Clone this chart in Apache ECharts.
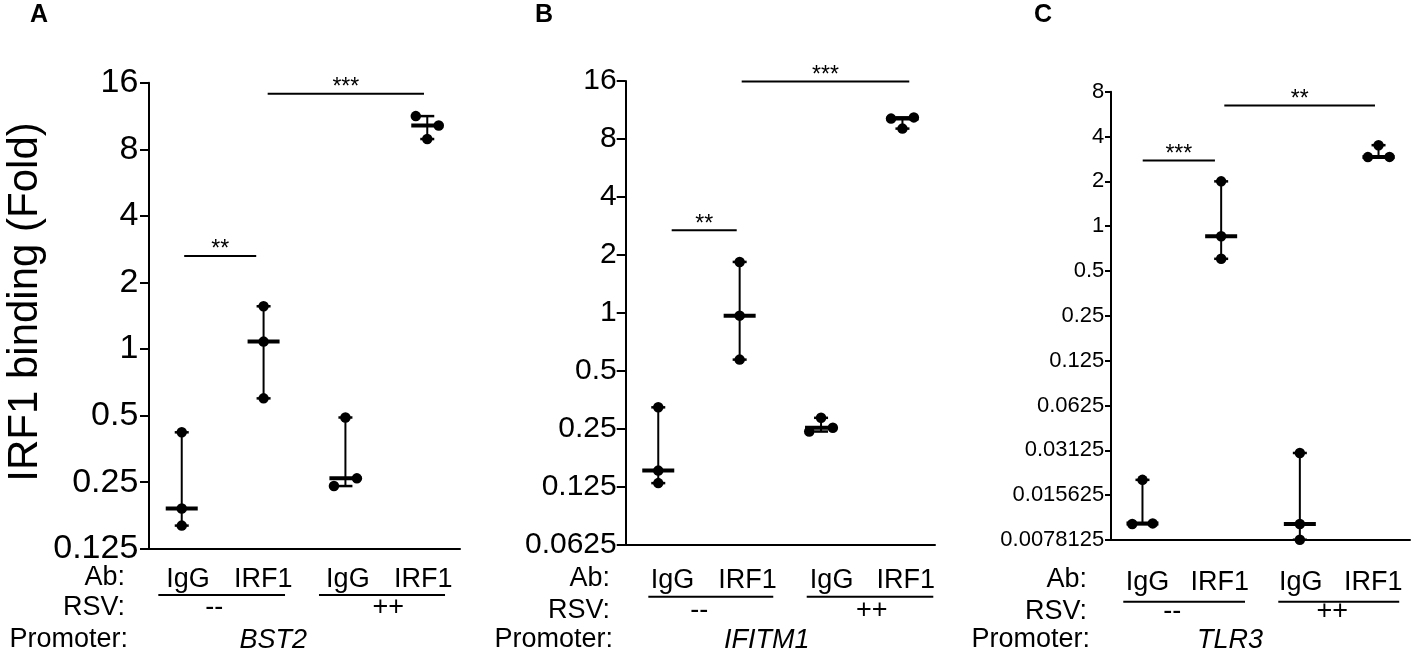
<!DOCTYPE html>
<html>
<head>
<meta charset="utf-8">
<title>IRF1 binding</title>
<script src="https://cdn.jsdelivr.net/npm/echarts@6/dist/echarts.min.js"></script>
<style>
html, body { margin: 0; padding: 0; background: #fff; }
#chart { width: 1417px; height: 658px; }
</style>
</head>
<body>
<div id="chart"></div>
<script>
var abLabels = ['IgG', 'IRF1', 'IgG', 'IRF1'];
var rsvLabels = ['--', '++'];
var promoters = ['BST2', 'IFITM1', 'TLR3'];
var panelLetters = ['A', 'B', 'C'];

var ticksA = [0.125, 0.25, 0.5, 1, 2, 4, 8, 16];
var ticksB = [0.0625, 0.125, 0.25, 0.5, 1, 2, 4, 8, 16];
var ticksC = [0.0078125, 0.015625, 0.03125, 0.0625, 0.125, 0.25, 0.5, 1, 2, 4, 8];

// three replicates per group (IgG--, IRF1--, IgG++, IRF1++)
var bst2Values = [[0.42, 0.19, 0.159], [1.56, 1.08, 0.598], [0.49, 0.24, 0.26], [11.3, 10.25, 8.9]];
var ifitm1Values = [[0.322, 0.151, 0.130], [1.835, 0.965, 0.57], [0.284, 0.241, 0.252], [10.2, 10.35, 9.05]];
var tlr3Values = [[0.0198, 0.0100, 0.0101], [2.0, 0.857, 0.604], [0.030, 0.0100, 0.00785], [3.5, 2.91, 2.92]];

// sideways spread of dots that overlap
var bst2Spread = [[0, 0, 0], [0, 0, 0], [0, -0.14, 0.14], [-0.14, 0.14, 0]];
var ifitm1Spread = [[0, 0, 0], [0, 0, 0], [0, -0.145, 0.145], [-0.14, 0.14, 0]];
var tlr3Spread = [[0, -0.13, 0.13], [0, 0, 0], [0, 0, 0], [0, -0.135, 0.14]];

// significance bars: text, from, to, height
var bst2Sig = [['**', 1.03, 1.91, 2.63], ['***', 2.05, 3.96, 14.25]];
var ifitm1Sig = [['**', 1.165, 1.964, 2.68], ['***', 2.025, 4.084, 15.9]];
var tlr3Sig = [['***', 1.003, 1.921, 2.76], ['**', 2.04, 3.955, 6.47]];

var FONT = 'Liberation Sans, Arial, Helvetica, sans-serif';

var panels = [
    { ticks: ticksA, values: bst2Values, spread: bst2Spread, sig: bst2Sig },
    { ticks: ticksB, values: ifitm1Values, spread: ifitm1Spread, sig: ifitm1Sig },
    { ticks: ticksC, values: tlr3Values, spread: tlr3Spread, sig: tlr3Sig }
];

var layouts = [
    { grid: { left: 149, top: 82.7, width: 311, height: 466 }, tickFont: 34, tickLen: 9, labelMargin: 10.7, abMargin: 17.5,
      abX: [1.077, 1.997, 3.03, 3.95], lineX: [[0.714, 2.262], [2.677, 4.217]], rsvX: [1.398, 3.524], geneX: 2.119,
      rowRight: [125, 125, 128], rowY: [577.7, 595, 608, 640], letterX: 39 },
    { grid: { left: 625.7, top: 81, width: 309.3, height: 463.3 }, tickFont: 30, tickLen: 9, labelMargin: 9, abMargin: 22.7,
      abX: [1.175, 2.096, 3.13, 4.04], lineX: [[0.878, 2.413], [2.824, 4.379]], rsvX: [1.504, 3.622], geneX: 2.332,
      rowRight: [610, 610, 613], rowY: [578.3, 596.7, 610.7, 640], letterX: 544 },
    { grid: { left: 1111, top: 91.7, width: 299, height: 448.3 }, tickFont: 22, tickLen: 6, labelMargin: 6.7, abMargin: 28.7,
      abX: [1.064, 1.982, 3.012, 3.933], lineX: [[0.756, 2.303], [2.726, 4.263]], rsvX: [1.379, 3.412], geneX: 2.112,
      rowRight: [1087, 1087, 1090], rowY: [580, 601.7, 611.7, 640], letterX: 1043 }
];

function median(arr) {
    var s = arr.slice().sort(function (a, b) { return a - b; });
    return s[1];
}

var chart = echarts.init(document.getElementById('chart'));

var grids = [], xAxes = [], yAxes = [], series = [];

panels.forEach(function (p, i) {
    var L = layouts[i];
    grids.push(L.grid);
    xAxes.push({
        type: 'value', gridIndex: i, min: 0.6, max: 4.4, position: 'bottom',
        axisLine: { onZero: false, lineStyle: { color: '#000', width: 2 } },
        axisTick: { show: false },
        splitLine: { show: false },
        axisLabel: {
            customValues: L.abX,
            formatter: function (v) { return abLabels[Math.round(v) - 1]; },
            color: '#000', fontSize: 27, fontFamily: FONT, margin: L.abMargin
        }
    });
    yAxes.push({
        type: 'log', logBase: 2, gridIndex: i,
        min: p.ticks[0], max: p.ticks[p.ticks.length - 1],
        axisLine: { show: true, lineStyle: { color: '#000', width: 2 } },
        axisTick: { show: true, customValues: p.ticks, length: L.tickLen, lineStyle: { color: '#000', width: 2 } },
        splitLine: { show: false },
        axisLabel: {
            customValues: p.ticks,
            formatter: function (v) { return String(v); },
            color: '#000', fontSize: L.tickFont, fontFamily: FONT, margin: L.labelMargin
        }
    });

    // median with range
    series.push({
        type: 'custom', xAxisIndex: i, yAxisIndex: i, clip: false, z: 2,
        encode: { x: 0, y: [1, 2, 3] },
        data: p.values.map(function (vals, k) {
            return [k + 1, Math.min.apply(null, vals), median(vals), Math.max.apply(null, vals)];
        }),
        renderItem: function (params, api) {
            var x = api.value(0);
            var lo = api.coord([x, api.value(1)]);
            var md = api.coord([x, api.value(2)]);
            var hi = api.coord([x, api.value(3)]);
            return {
                type: 'group',
                children: [
                    { type: 'line', shape: { x1: lo[0], y1: lo[1], x2: hi[0], y2: hi[1] }, style: { stroke: '#000', lineWidth: 2 } },
                    { type: 'line', shape: { x1: lo[0] - 7, y1: lo[1], x2: lo[0] + 7, y2: lo[1] }, style: { stroke: '#000', lineWidth: 2.5 } },
                    { type: 'line', shape: { x1: hi[0] - 7, y1: hi[1], x2: hi[0] + 7, y2: hi[1] }, style: { stroke: '#000', lineWidth: 2.5 } },
                    { type: 'line', shape: { x1: md[0] - 16, y1: md[1], x2: md[0] + 16, y2: md[1] }, style: { stroke: '#000', lineWidth: 4 } }
                ]
            };
        }
    });

    // replicates
    var pts = [];
    p.values.forEach(function (vals, k) {
        vals.forEach(function (v, j) { pts.push([k + 1 + p.spread[k][j], v]); });
    });
    series.push({
        type: 'scatter', xAxisIndex: i, yAxisIndex: i, clip: false, z: 3,
        symbol: 'circle', symbolSize: 10.5,
        itemStyle: { color: '#000', opacity: 1 },
        data: pts
    });

    // significance bars
    var sig = p.sig;
    series.push({
        type: 'custom', xAxisIndex: i, yAxisIndex: i, clip: false, z: 2,
        encode: { x: [0, 1], y: 2 },
        data: sig.map(function (s) { return [s[1], s[2], s[3]]; }),
        renderItem: function (params, api) {
            var a = api.coord([api.value(0), api.value(2)]);
            var b = api.coord([api.value(1), api.value(2)]);
            return {
                type: 'group',
                children: [
                    { type: 'line', shape: { x1: a[0], y1: a[1], x2: b[0], y2: b[1] }, style: { stroke: '#000', lineWidth: 2 } },
                    { type: 'text', x: (a[0] + b[0]) / 2, y: a[1] - 6,
                      style: { text: sig[params.dataIndex][0], fill: '#000', fontSize: 23, fontFamily: FONT, align: 'center', verticalAlign: 'middle' } }
                ]
            };
        }
    });
});

chart.setOption({
    backgroundColor: '#fff',
    animation: false,
    grid: grids,
    xAxis: xAxes,
    yAxis: yAxes,
    series: series
});

// annotation rows under each panel
var graphics = [];
layouts.forEach(function (L, i) {
    var px = function (u) { return chart.convertToPixel({ xAxisIndex: i }, u); };
    var txt = function (t, x, y, opts) {
        var style = { text: t, fill: '#000', fontSize: 27, fontFamily: FONT, align: 'center', verticalAlign: 'middle' };
        for (var k in opts) { style[k] = opts[k]; }
        graphics.push({ type: 'text', x: x, y: y, style: style });
    };
    txt(panelLetters[i], L.letterX, 15, { fontSize: 25, fontWeight: 'bold' });
    txt('Ab:', L.rowRight[0], L.rowY[0], { align: 'right' });
    txt('RSV:', L.rowRight[1], L.rowY[2], { align: 'right' });
    txt('Promoter:', L.rowRight[2], L.rowY[3], { align: 'right' });
    L.lineX.forEach(function (seg) {
        graphics.push({ type: 'line', shape: { x1: px(seg[0]), y1: L.rowY[1], x2: px(seg[1]), y2: L.rowY[1] },
            style: { stroke: '#000', lineWidth: 2 } });
    });
    rsvLabels.forEach(function (t, k) { txt(t, px(L.rsvX[k]), L.rowY[2]); });
    txt(promoters[i], px(L.geneX), L.rowY[3], { fontStyle: 'italic' });
});
graphics.push({
    type: 'text', x: 25, y: 302, rotation: Math.PI / 2,
    style: { text: 'IRF1 binding (Fold)', fill: '#000', fontSize: 42, fontFamily: FONT, align: 'center', verticalAlign: 'middle' }
});

chart.setOption({ graphic: graphics });
</script>
</body>
</html>
